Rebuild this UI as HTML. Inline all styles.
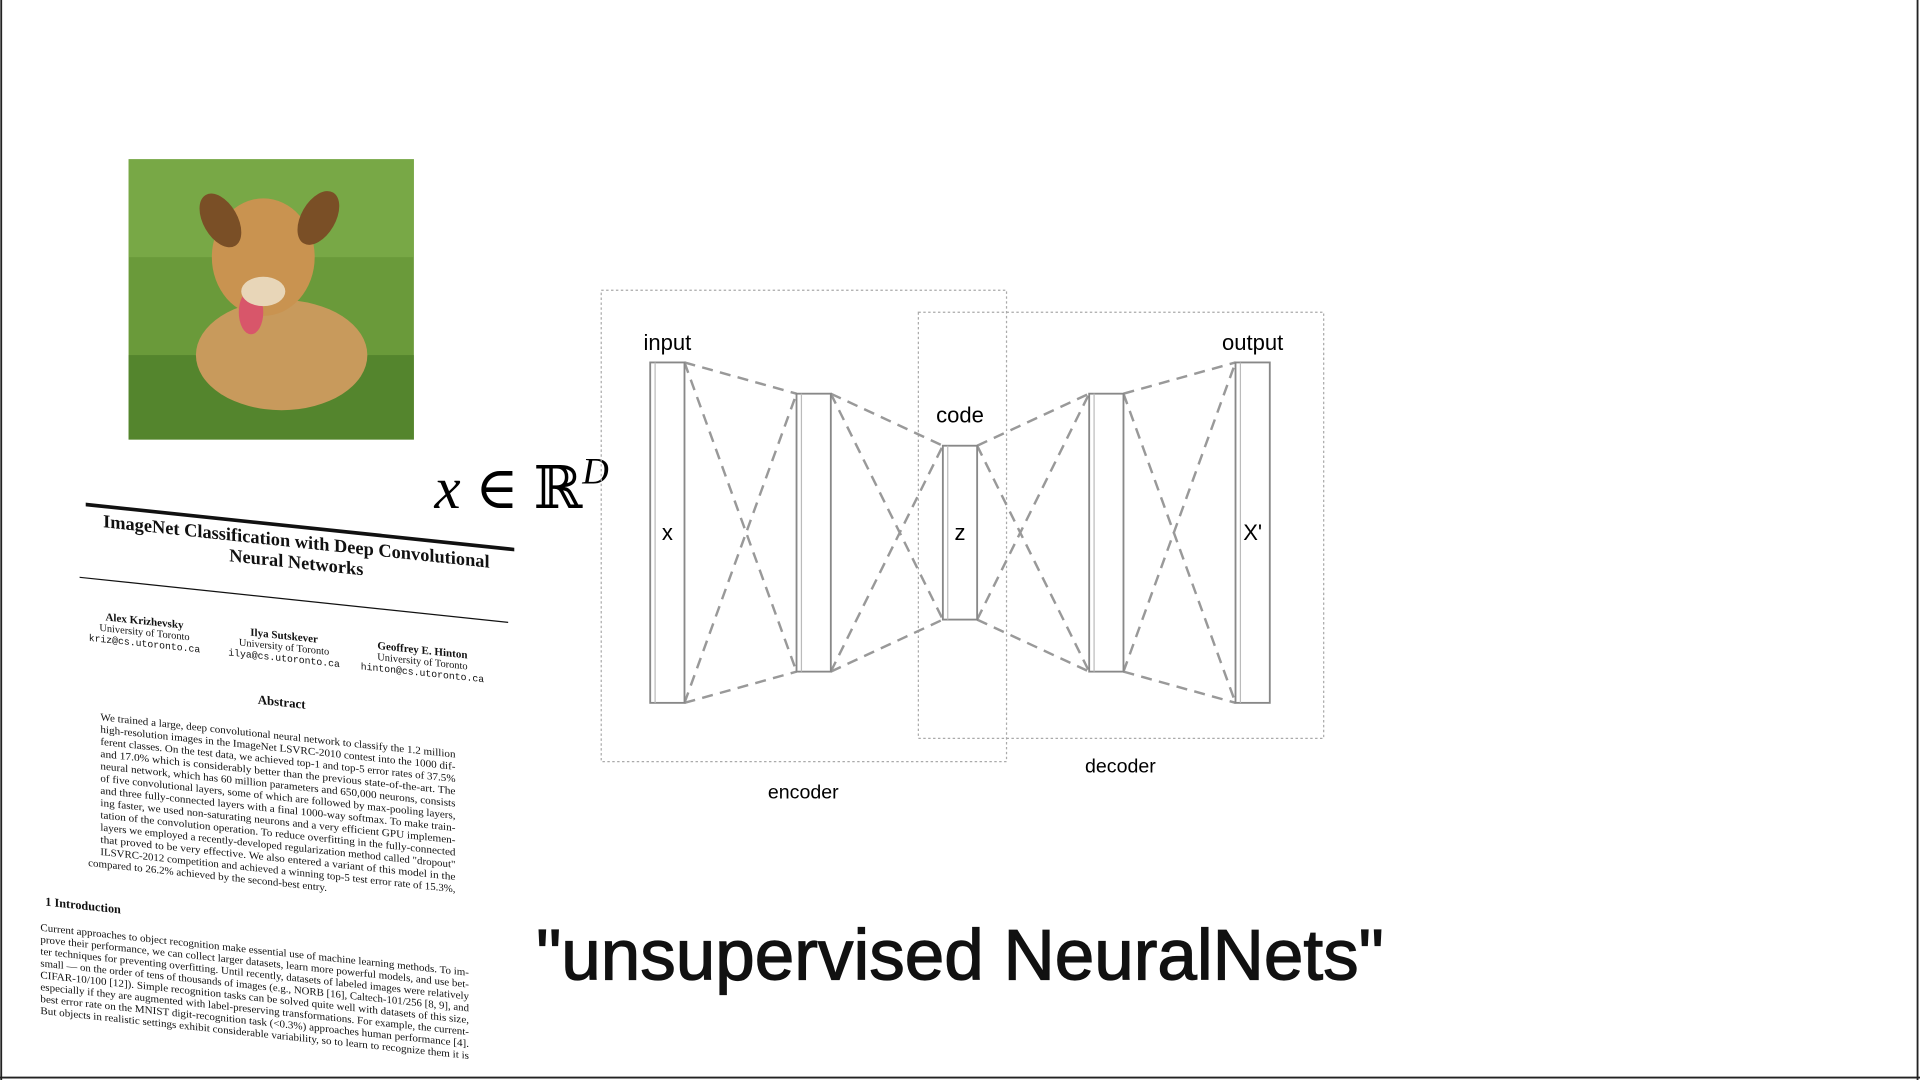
<!DOCTYPE html>
<html><head><meta charset="utf-8"><style>
html,body{margin:0;padding:0;background:#fff;width:1920px;height:1080px;overflow:hidden}
svg{display:block}
</style></head><body>
<svg id="root" width="1920" height="1080" viewBox="0 0 1568 882" xmlns="http://www.w3.org/2000/svg">
<rect x="0" y="0" width="1568" height="882" fill="#fff"/>
<line x1="1" y1="0" x2="1" y2="882" stroke="#222" stroke-width="1.5"/>
<line x1="1566" y1="0" x2="1566" y2="882" stroke="#222" stroke-width="1.5"/>
<line x1="0" y1="880" x2="1568" y2="880" stroke="#222" stroke-width="1.5"/>

<g>
  <rect x="105" y="130" width="233" height="229" fill="#6a9a3a"/>
  <rect x="105" y="130" width="233" height="80" fill="#7fae4c" opacity="0.7"/>
  <rect x="105" y="290" width="233" height="69" fill="#4f7f2a" opacity="0.8"/>
  <ellipse cx="230" cy="290" rx="70" ry="45" fill="#c89a5c"/>
  <ellipse cx="215" cy="210" rx="42" ry="48" fill="#c99350"/>
  <ellipse cx="180" cy="180" rx="14" ry="24" fill="#7a4f26" transform="rotate(-30 180 180)"/>
  <ellipse cx="260" cy="178" rx="14" ry="24" fill="#7a4f26" transform="rotate(30 260 178)"/>
  <ellipse cx="205" cy="255" rx="10" ry="18" fill="#d8566a"/>
  <ellipse cx="215" cy="238" rx="18" ry="12" fill="#e8d6b8"/>
</g>

<text x="426" y="415" font-family="Liberation Serif, DejaVu Serif, serif" font-size="48" font-style="italic" text-anchor="middle">x <tspan font-style="normal">∈ ℝ</tspan><tspan font-size="30" dy="-20">D</tspan></text>

<g id="paper" transform="translate(70,0) skewY(6) translate(-70,0)" font-family="Liberation Serif, serif" fill="#111"></g>

<g id="ae">
  <rect x="491" y="237" width="331" height="385" fill="none" stroke="#aaa" stroke-width="1" stroke-dasharray="2,2"/>
  <rect x="750" y="255" width="331" height="348" fill="none" stroke="#aaa" stroke-width="1" stroke-dasharray="2,2"/>
  <text x="656" y="652" font-family="Liberation Sans, sans-serif" font-size="16" text-anchor="middle">encoder</text>
  <text x="915" y="631" font-family="Liberation Sans, sans-serif" font-size="16" text-anchor="middle">decoder</text>
</g>

<text x="784" y="800" font-family="Liberation Sans, DejaVu Sans, sans-serif" font-size="58" text-anchor="middle" fill="#111" stroke="#111" stroke-width="1">"unsupervised NeuralNets"</text>
</svg>
<script>
// Layer data (autoencoder): unit-size heights of each layer
const layerNames = ["input","h1","code","h2","output"];
const layerSizes = [278, 227, 142, 227, 278];
const layerLetters = ["x","","z","","X'"];
const layerTitles = ["input","","code","","output"];

const NS="http://www.w3.org/2000/svg";
const ae=document.getElementById('ae');
const xPos=i=>531+i*119.5;
const cy=435, bw=28;
function mk(t,a){const e=document.createElementNS(NS,t);for(const k in a)e.setAttribute(k,a[k]);return e;}
const rects=[];
layerSizes.forEach((h,i)=>{
  const x=xPos(i), y=cy-h/2;
  rects.push({x,y,h});
});
for(let i=0;i<rects.length-1;i++){
  const a=rects[i],b=rects[i+1];
  [[a.y,b.y],[a.y,b.y+b.h],[a.y+a.h,b.y],[a.y+a.h,b.y+b.h]].forEach(p=>{
    const l=mk('line',{x1:a.x+bw,y1:p[0],x2:b.x,y2:p[1],stroke:'#999','stroke-width':2,'stroke-dasharray':'9,6'});
    
    
    ae.appendChild(l);
  });
}
rects.forEach((r,i)=>{
  const g=mk('rect',{x:r.x,y:r.y,width:bw,height:r.h,fill:'#fff',stroke:'#888','stroke-width':1.5});
  
  
  ae.appendChild(g);
  const inner=mk('line',{x1:r.x+4,y1:r.y,x2:r.x+4,y2:r.y+r.h,stroke:'#bbb','stroke-width':1});
  
  
  ae.appendChild(inner);
  if(layerLetters[i]){
    const t=mk('text',{x:r.x+bw/2,y:cy+6,'font-family':'Liberation Sans, sans-serif','font-size':18,'text-anchor':'middle'});
    t.textContent=layerLetters[i];
    
    
    ae.appendChild(t);
  }
  if(layerTitles[i]){
    const off = layerNames[i]==="code" ? 19 : 10;
    const t=mk('text',{x:r.x+bw/2,y:r.y-off,'font-family':'Liberation Sans, sans-serif','font-size':18,'text-anchor':'middle'});
    t.textContent=layerTitles[i];
    
    
    ae.appendChild(t);
  }
});

// Paper excerpt (sheared coordinates: y given at the sheared origin x=70)
const paper=document.getElementById('paper');
function pt(x,y,s,txt,opt){const t=mk('text',Object.assign({x,y,'font-size':s},opt||{}));t.textContent=txt;paper.appendChild(t);return t;}
const rl=mk('line',{x1:70,y1:412,x2:420,y2:412,stroke:'#111','stroke-width':3});
paper.appendChild(rl);
pt(242,429,15,"ImageNet Classification with Deep Convolutional",{'text-anchor':'middle','font-weight':'bold'});
pt(242,446,15,"Neural Networks",{'text-anchor':'middle','font-weight':'bold'});
const rl2=mk('line',{x1:65,y1:472,x2:415,y2:472,stroke:'#111','stroke-width':1});
paper.appendChild(rl2);
[[118,"Alex Krizhevsky","University of Toronto","kriz@cs.utoronto.ca"],[232,"Ilya Sutskever","University of Toronto","ilya@cs.utoronto.ca"],[345,"Geoffrey E. Hinton","University of Toronto","hinton@cs.utoronto.ca"]].forEach(a=>{
  pt(a[0],505,9,a[1],{'text-anchor':'middle','font-weight':'bold'});
  pt(a[0],514,8.5,a[2],{'text-anchor':'middle'});
  pt(a[0],523,8,a[3],{'text-anchor':'middle','font-family':'Liberation Mono, monospace'});
});
pt(230,560,10.5,"Abstract",{'text-anchor':'middle','font-weight':'bold'});
const abs=["We trained a large, deep convolutional neural network to classify the 1.2 million","high-resolution images in the ImageNet LSVRC-2010 contest into the 1000 dif-","ferent classes. On the test data, we achieved top-1 and top-5 error rates of 37.5%","and 17.0% which is considerably better than the previous state-of-the-art. The","neural network, which has 60 million parameters and 650,000 neurons, consists","of five convolutional layers, some of which are followed by max-pooling layers,","and three fully-connected layers with a final 1000-way softmax. To make train-","ing faster, we used non-saturating neurons and a very efficient GPU implemen-","tation of the convolution operation. To reduce overfitting in the fully-connected","layers we employed a recently-developed regularization method called \"dropout\"","that proved to be very effective. We also entered a variant of this model in the","ILSVRC-2012 competition and achieved a winning top-5 test error rate of 15.3%,","compared to 26.2% achieved by the second-best entry."];
abs.forEach((l,i)=>pt(i==abs.length-1?72:82,587+i*10,8.5,l,{textLength:i==abs.length-1?195:290,lengthAdjust:'spacingAndGlyphs'}));
pt(37,743,10,"1    Introduction",{'font-weight':'bold'});
const intro=["Current approaches to object recognition make essential use of machine learning methods. To im-","prove their performance, we can collect larger datasets, learn more powerful models, and use bet-","ter techniques for preventing overfitting. Until recently, datasets of labeled images were relatively","small — on the order of tens of thousands of images (e.g., NORB [16], Caltech-101/256 [8, 9], and","CIFAR-10/100 [12]). Simple recognition tasks can be solved quite well with datasets of this size,","especially if they are augmented with label-preserving transformations. For example, the current-","best error rate on the MNIST digit-recognition task (<0.3%) approaches human performance [4].","But objects in realistic settings exhibit considerable variability, so to learn to recognize them it is"];
intro.forEach((l,i)=>pt(33,764+i*9.7,8.5,l,{textLength:350,lengthAdjust:'spacingAndGlyphs'}));
</script>
</body></html>
